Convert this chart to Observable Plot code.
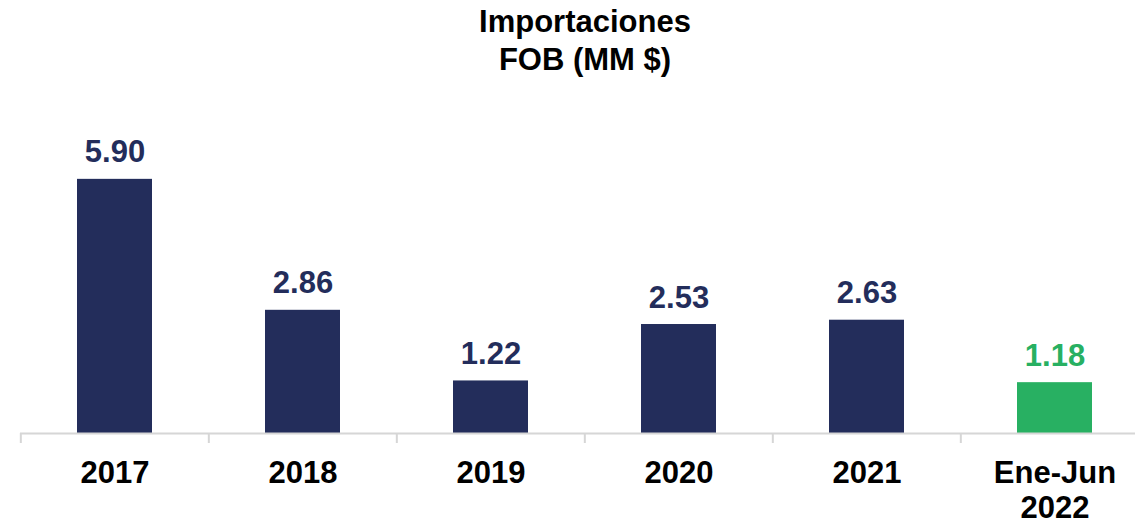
<!DOCTYPE html>
<html>
<head>
<meta charset="utf-8">
<script src="https://cdn.jsdelivr.net/npm/d3@7"></script>
<script src="https://cdn.jsdelivr.net/npm/@observablehq/plot@0.6"></script>
<style>
  html, body { margin: 0; padding: 0; background: #fff; overflow: hidden; }
  #wrap { position: relative; width: 1150px; height: 520px; }
  #title { position: absolute; left: 20px; width: 1130px; top: 3px; text-align: center;
    font-family: "Liberation Sans", Arial, sans-serif; font-weight: bold; font-size: 31px; line-height: 38px; color: #000; }
  #chart { position: absolute; left: 0; top: 0; }
</style>
</head>
<body>
<div id="wrap">
  <div id="chart"></div>
  <div id="title">Importaciones<br>FOB (MM $)</div>
</div>
<script>
const categories = ["2017", "2018", "2019", "2020", "2021", "Ene-Jun\n2022"];
const values = [5.90, 2.86, 1.22, 2.53, 2.63, 1.18];
const kinds = ["Anual", "Anual", "Anual", "Anual", "Anual", "Parcial"];

const data = categories.map((c, i) => ({ cat: c, value: values[i], kind: kinds[i] }));

const W = 1150, ML = 20, MR = 0;
const step = (W - ML - MR) / categories.length;
const font = "'Liberation Sans', Arial, sans-serif";

const chart = Plot.plot({
  width: W,
  height: 520,
  marginLeft: ML,
  marginRight: MR,
  marginTop: 153,
  marginBottom: 87,
  x: { domain: categories, paddingInner: 0.6, paddingOuter: 0.3, axis: null },
  y: { domain: [0, 6.5], axis: null },
  color: { domain: ["Anual", "Parcial"], range: ["#232d5b", "#28b062"] },
  style: { fontFamily: font, background: "#fff", overflow: "visible" },
  marks: [
    Plot.barY(data, { x: "cat", y: "value", fill: "kind" }),
    Plot.ruleY([0], { stroke: "#d6d6d6", strokeWidth: 2 }),
    Plot.axisX({ tickSize: 10, dx: -step / 2, text: null, label: null, stroke: "#d6d6d6", strokeWidth: 2 }),
    Plot.text(data, {
      x: "cat", y: "value", text: d => d.value.toFixed(2), fill: "kind",
      lineAnchor: "bottom", dy: -17, fontSize: 31, fontWeight: "bold"
    }),
    Plot.text(data, {
      x: "cat", text: "cat", frameAnchor: "bottom", lineAnchor: "top", dy: 25,
      fontSize: 31, fontWeight: "bold", fill: "#000", lineHeight: 1.13
    })
  ]
});
document.getElementById("chart").appendChild(chart);
</script>
</body>
</html>
